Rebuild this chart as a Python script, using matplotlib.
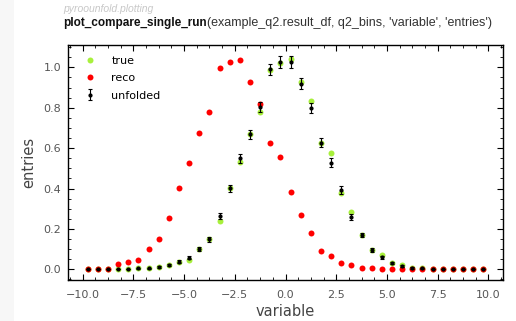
import matplotlib
matplotlib.use('Agg')
import matplotlib.pyplot as plt
from matplotlib.ticker import AutoMinorLocator, MultipleLocator
from matplotlib.patches import Rectangle
import numpy as np

# bin centres of q2_bins (40 bins, width 0.5)
bin_centers = [-9.75, -9.25, -8.75, -8.25, -7.75, -7.25, -6.75, -6.25, -5.75, -5.25,
               -4.75, -4.25, -3.75, -3.25, -2.75, -2.25, -1.75, -1.25, -0.75, -0.25,
               0.25, 0.75, 1.25, 1.75, 2.25, 2.75, 3.25, 3.75, 4.25, 4.75,
               5.25, 5.75, 6.25, 6.75, 7.25, 7.75, 8.25, 8.75, 9.25, 9.75]

true_vals = [0.0, 0.0, 0.0, 0.0, 0.0, 0.005, 0.005, 0.01, 0.021, 0.038,
             0.046, 0.099, 0.149, 0.241, 0.401, 0.53, 0.668, 0.777, 0.985, 1.023,
             1.04, 0.929, 0.834, 0.627, 0.577, 0.38, 0.285, 0.17, 0.096, 0.071,
             0.033, 0.021, 0.008, 0.005, 0.002, 0.0, 0.0, 0.0, 0.0, 0.0]

reco_vals = [0.0, 0.0, 0.0, 0.025, 0.036, 0.046, 0.10, 0.149, 0.255, 0.405,
             0.528, 0.676, 0.777, 0.997, 1.025, 1.035, 0.929, 0.818, 0.627, 0.554,
             0.385, 0.269, 0.178, 0.092, 0.066, 0.030, 0.020, 0.006, 0.006, 0.002,
             0.002, 0.001, 0.001, 0.0, 0.0, 0.0, 0.0, 0.0, 0.0, 0.0]

unfolded_vals = [0.0, 0.0, 0.0, 0.0, 0.0, 0.005, 0.005, 0.01, 0.021, 0.038,
                 0.058, 0.099, 0.149, 0.264, 0.401, 0.549, 0.668, 0.805, 0.99, 1.025,
                 1.028, 0.92, 0.80, 0.627, 0.528, 0.393, 0.257, 0.17, 0.096, 0.059,
                 0.03, 0.016, 0.008, 0.005, 0.002, 0.0, 0.0, 0.0, 0.0, 0.0]

unfolded_err = [0.0, 0.0, 0.0, 0.0, 0.0, 0.003, 0.003, 0.004, 0.005, 0.007,
                0.008, 0.01, 0.012, 0.015, 0.018, 0.021, 0.023, 0.025, 0.028, 0.03,
                0.03, 0.028, 0.026, 0.023, 0.021, 0.018, 0.015, 0.012, 0.01, 0.008,
                0.006, 0.005, 0.004, 0.003, 0.002, 0.0, 0.0, 0.0, 0.0, 0.0]

fig = plt.figure(figsize=(5.16, 3.21), dpi=100)

# notebook-like background strip on the left
fig.patches.append(Rectangle((0, 0), 14 / 516, 1, transform=fig.transFigure,
                             facecolor='#f7f7f7', edgecolor='none', zorder=-10))

# header text (notebook cell)
fig.text(63 / 516, 1 - 9 / 321, 'pyroounfold.plotting', fontsize=7.5, style='italic',
         color='#c8c8c8', family='Liberation Sans', va='center')
t1 = fig.text(63 / 516, 1 - 23 / 321, 'plot_compare_single_run', fontsize=8.5,
              weight='bold', color='#111111', family='Liberation Sans', va='center')
fig.canvas.draw()
bb = t1.get_window_extent()
fig.text(bb.x1 / 516, 1 - 23 / 321,
         "(example_q2.result_df, q2_bins, 'variable', 'entries')",
         fontsize=9.0, color='#333333', family='Liberation Sans', va='center')

ax = fig.add_axes([68 / 516, 1 - 280 / 321, 435 / 516, 235 / 321])

ax.plot(bin_centers, true_vals, 'o', color='#a8f03c', ms=4.3, mec='none', label='true')
ax.plot(bin_centers, reco_vals, 'o', color='red', ms=4.3, mec='none', label='reco')
ax.errorbar(bin_centers, unfolded_vals, yerr=unfolded_err, fmt='o', color='black',
            ms=2, elinewidth=0.8, capsize=1.5, capthick=0.8, label='unfolded')

ax.xaxis.set_major_locator(MultipleLocator(2.5))
ax.yaxis.set_major_locator(MultipleLocator(0.2))
ax.xaxis.set_minor_locator(AutoMinorLocator(4))
ax.yaxis.set_minor_locator(AutoMinorLocator(4))
ax.tick_params(which='both', direction='in', top=True, right=True, colors='black',
               labelcolor='#555555', labelsize=8)
ax.tick_params(which='major', length=4, width=0.8)
ax.tick_params(axis='x', which='major', pad=7)
ax.tick_params(axis='y', which='major', pad=5)
ax.tick_params(which='minor', length=2, width=0.6)
for s in ax.spines.values():
    s.set_linewidth(1.0)

ax.set_xlabel('variable', fontsize=10.5, color='#444444', labelpad=3)
ax.set_ylabel('entries', fontsize=10.5, color='#444444', labelpad=5)

ax.legend(loc='upper left', frameon=False, numpoints=1, fontsize=8,
          handletextpad=0.9, labelspacing=0.65, borderaxespad=0.6)

fig.savefig('out.png', dpi=100)
